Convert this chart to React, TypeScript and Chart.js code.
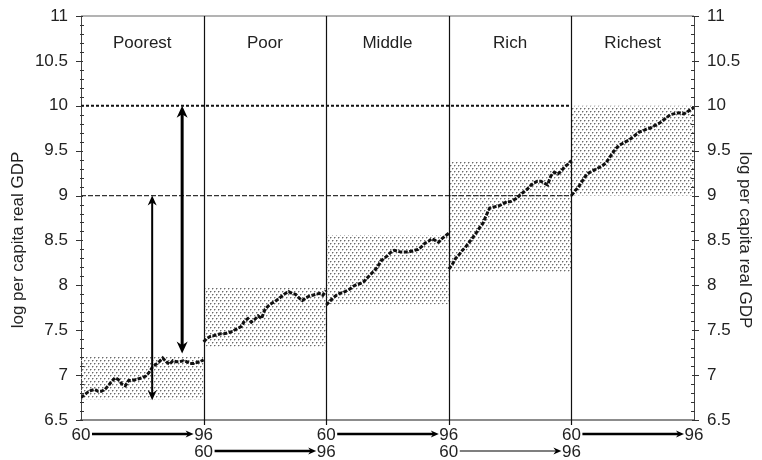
import React, { useEffect, useRef } from "react";
import { Chart, registerables } from "chart.js";
Chart.register(...registerables);

// ---------- data ----------
const panelNames = ["Poorest", "Poor", "Middle", "Rich", "Richest"];
const startYearLabel = "60";
const endYearLabel = "96";
const yearsPerPanel = 36;

const poorest = [6.75, 6.78, 6.81, 6.83, 6.84, 6.82, 6.82, 6.84, 6.88, 6.93, 6.97, 6.95, 6.9, 6.88, 6.94, 6.94, 6.95, 6.96, 6.97, 6.99, 7.03, 7.09, 7.12, 7.15, 7.19, 7.15, 7.12, 7.16, 7.15, 7.15, 7.16, 7.15, 7.13, 7.13, 7.14, 7.15, 7.17];
const poor = [7.37, 7.41, 7.43, 7.44, 7.45, 7.46, 7.46, 7.47, 7.48, 7.5, 7.52, 7.54, 7.6, 7.63, 7.59, 7.62, 7.66, 7.63, 7.73, 7.77, 7.8, 7.82, 7.85, 7.88, 7.91, 7.93, 7.91, 7.9, 7.86, 7.83, 7.86, 7.88, 7.89, 7.9, 7.91, 7.89, 7.94];
const middle = [7.78, 7.82, 7.86, 7.89, 7.91, 7.92, 7.94, 7.96, 7.99, 8.01, 8.02, 8.04, 8.08, 8.12, 8.16, 8.2, 8.27, 8.3, 8.33, 8.37, 8.39, 8.38, 8.37, 8.37, 8.37, 8.38, 8.39, 8.4, 8.43, 8.47, 8.49, 8.52, 8.5, 8.48, 8.52, 8.55, 8.58];
const rich = [8.18, 8.23, 8.3, 8.34, 8.39, 8.43, 8.48, 8.53, 8.58, 8.64, 8.69, 8.78, 8.86, 8.87, 8.88, 8.89, 8.91, 8.93, 8.93, 8.95, 8.97, 9.01, 9.04, 9.07, 9.11, 9.14, 9.16, 9.16, 9.14, 9.12, 9.22, 9.26, 9.24, 9.27, 9.32, 9.35, 9.39];
const richest = [9.0, 9.05, 9.09, 9.15, 9.21, 9.25, 9.27, 9.29, 9.31, 9.33, 9.36, 9.41, 9.47, 9.52, 9.56, 9.58, 9.6, 9.62, 9.65, 9.68, 9.71, 9.72, 9.74, 9.75, 9.77, 9.79, 9.81, 9.84, 9.87, 9.9, 9.91, 9.92, 9.92, 9.91, 9.93, 9.96, 9.98];
const series = [poorest, poor, middle, rich, richest];

const bandLow = [6.73, 7.32, 7.79, 8.15, 9.0];
const bandHigh = [7.21, 7.97, 8.56, 9.38, 10.0];

const refLevels = [10, 9];
const refPanels = 4; // reference lines run over the first four panels

const yTickValues = [6.5, 7, 7.5, 8, 8.5, 9, 9.5, 10, 10.5, 11];
const yTickLabels = ["6.5", "7", "7.5", "8", "8.5", "9", "9.5", "10", "10.5", "11"];
const yTitle = "log per capita real GDP";

// vertical double arrows in the poorest panel (year offset from 60, low end, high end)
const gapArrowYear = [20.9, 29.7];
const gapArrowLow = [6.72, 7.24];
const gapArrowHigh = [9.0, 10.0];

// ---------- styles ----------
const FONT = "'Liberation Sans', Arial, Helvetica, sans-serif";
const TEXT = "#222";
const gapArrowWidths = [2, 3];
const yearArrowWidths = [2.5, 2.5, 2.5, 1.2, 2.5];

function makePattern(): CanvasPattern | string {
  const c = document.createElement("canvas");
  c.width = 4;
  c.height = 6;
  const g = c.getContext("2d");
  if (!g) return "#ddd";
  const dot = (x: number, y: number) => {
    g.fillStyle = "#6a6a6a";
    g.fillRect(x, y, 1, 1);
    g.fillStyle = "#bdbdbd";
    g.fillRect((x + 1) % 4, y, 1, 1);
    g.fillRect(x, (y + 1) % 6, 1, 1);
  };
  dot(0, 0);
  dot(2, 3);
  const p = g.createPattern(c, "repeat");
  return p || "#ddd";
}

function head(ctx: CanvasRenderingContext2D, tx: number, ty: number, ux: number, uy: number, len: number, hw: number) {
  const bx = tx - ux * len;
  const by = ty - uy * len;
  const px = -uy;
  const py = ux;
  const nx = tx - ux * len * 0.7;
  const ny = ty - uy * len * 0.7;
  ctx.beginPath();
  ctx.moveTo(tx, ty);
  ctx.lineTo(bx + px * hw, by + py * hw);
  ctx.lineTo(nx, ny);
  ctx.lineTo(bx - px * hw, by - py * hw);
  ctx.closePath();
  ctx.fill();
}

function arrow(ctx: CanvasRenderingContext2D, x1: number, y1: number, x2: number, y2: number, w: number, len: number, hw: number, both: boolean) {
  const dx = x2 - x1;
  const dy = y2 - y1;
  const d = Math.hypot(dx, dy) || 1;
  const ux = dx / d;
  const uy = dy / d;
  ctx.lineWidth = w;
  ctx.beginPath();
  ctx.moveTo(both ? x1 + ux * len * 0.6 : x1, both ? y1 + uy * len * 0.6 : y1);
  ctx.lineTo(x2 - ux * len * 0.6, y2 - uy * len * 0.6);
  ctx.stroke();
  head(ctx, x2, y2, ux, uy, len, hw);
  if (both) head(ctx, x1, y1, -ux, -uy, len, hw);
}

const overlayPlugin = {
  id: "overlay",
  afterDatasetsDraw(chart: any) {
    const { ctx, chartArea, scales } = chart;
    const xs = scales.x;
    const ys = scales.y;
    const L = chartArea.left;
    const R = chartArea.right;
    const T = chartArea.top;
    const B = chartArea.bottom;
    ctx.save();

    // top frame line
    ctx.strokeStyle = "#9a9a9a";
    ctx.lineWidth = 1.5;
    ctx.beginPath();
    ctx.moveTo(L, T);
    ctx.lineTo(R, T);
    ctx.stroke();

    // panel separators
    ctx.strokeStyle = "#111";
    ctx.lineWidth = 1.2;
    for (let p = 1; p < panelNames.length; p++) {
      const px = Math.round(xs.getPixelForValue(p * yearsPerPanel)) + 0.5;
      ctx.beginPath();
      ctx.moveTo(px, T);
      ctx.lineTo(px, B + 5);
      ctx.stroke();
    }

    // panel names
    ctx.fillStyle = TEXT;
    ctx.font = `17px ${FONT}`;
    ctx.textAlign = "center";
    ctx.textBaseline = "middle";
    panelNames.forEach((name, p) => {
      const cx = (xs.getPixelForValue(p * yearsPerPanel) + xs.getPixelForValue((p + 1) * yearsPerPanel)) / 2;
      ctx.fillText(name, cx, T + 27);
    });

    // gap arrows
    ctx.fillStyle = "#000";
    ctx.strokeStyle = "#000";
    gapArrowYear.forEach((yr, i) => {
      const ax = xs.getPixelForValue(yr);
      arrow(ctx, ax, ys.getPixelForValue(gapArrowLow[i]), ax, ys.getPixelForValue(gapArrowHigh[i]), gapArrowWidths[i], i === 0 ? 10 : 12, i === 0 ? 4.5 : 5.5, true);
    });

    // y axis tick marks (major + minor)
    ctx.strokeStyle = "#333";
    ctx.lineWidth = 1;
    const minorStep = 0.1;
    const ymin = yTickValues[0];
    const ymax = yTickValues[yTickValues.length - 1];
    const nMinor = Math.round((ymax - ymin) / minorStep);
    for (let i = 0; i <= nMinor; i++) {
      const v = ymin + i * minorStep;
      const py = Math.round(ys.getPixelForValue(v)) + 0.5;
      const major = yTickValues.some((t) => Math.abs(t - v) < 1e-6);
      ctx.beginPath();
      if (major) {
        ctx.moveTo(L - 5, py);
        ctx.lineTo(L + 2, py);
        ctx.moveTo(R - 2, py);
        ctx.lineTo(R + 5, py);
      } else {
        ctx.moveTo(L - 1, py);
        ctx.lineTo(L + 3, py);
        ctx.moveTo(R - 3, py);
        ctx.lineTo(R + 1, py);
      }
      ctx.stroke();
    }

    // year labels under each panel with arrows
    ctx.font = `17px ${FONT}`;
    ctx.textAlign = "center";
    ctx.textBaseline = "middle";
    panelNames.forEach((_, p) => {
      const x0 = xs.getPixelForValue(p * yearsPerPanel);
      const x1 = xs.getPixelForValue((p + 1) * yearsPerPanel);
      const rowY = p % 2 === 0 ? B + 15 : B + 32;
      ctx.fillStyle = TEXT;
      ctx.fillText(startYearLabel, x0, rowY);
      ctx.fillText(endYearLabel, x1, rowY);
      ctx.fillStyle = "#000";
      ctx.strokeStyle = "#000";
      arrow(ctx, x0 + 11, rowY - 1, x1 - 10, rowY - 1, yearArrowWidths[p], 8, 3.5, false);
    });

    // axis titles
    ctx.fillStyle = TEXT;
    ctx.font = `17px ${FONT}`;
    ctx.textAlign = "center";
    ctx.textBaseline = "middle";
    const titleY = (T + B) / 2 + 22;
    ctx.save();
    ctx.translate(18, titleY);
    ctx.rotate(-Math.PI / 2);
    ctx.fillText(yTitle, 0, 0);
    ctx.restore();
    ctx.save();
    ctx.translate(745, titleY);
    ctx.rotate(Math.PI / 2);
    ctx.fillText(yTitle, 0, 0);
    ctx.restore();

    ctx.restore();
  },
};

function zeroPad(s: any) {
  s.paddingTop = 0;
  s.paddingBottom = 0;
  s.paddingLeft = 0;
  s.paddingRight = 0;
}

export default function App() {
  const ref = useRef<HTMLCanvasElement | null>(null);

  useEffect(() => {
    document.body.style.margin = "0";
    const canvas = ref.current;
    if (!canvas) return;
    const pattern = makePattern();

    const datasets: any[] = [];
    // series
    series.forEach((vals, p) => {
      datasets.push({
        type: "line",
        data: vals.map((v, i) => ({ x: p * yearsPerPanel + i, y: v })),
        borderColor: "#111",
        borderWidth: 3,
        borderDash: [4, 1.5],
        pointRadius: 0,
        tension: 0,
        fill: false,
        order: 1,
      });
    });
    // reference lines
    refLevels.forEach((lv, i) => {
      datasets.push({
        type: "line",
        data: [
          { x: 0, y: lv },
          { x: refPanels * yearsPerPanel, y: lv },
        ],
        borderColor: i === 0 ? "#111" : "#333",
        borderWidth: i === 0 ? 2 : 1.3,
        borderDash: i === 0 ? [3, 2] : [5, 2],
        pointRadius: 0,
        fill: false,
        order: 2,
      });
    });
    // shaded bands
    bandLow.forEach((lo, p) => {
      datasets.push({
        type: "line",
        data: [
          { x: p * yearsPerPanel, y: bandHigh[p] },
          { x: (p + 1) * yearsPerPanel, y: bandHigh[p] },
        ],
        borderWidth: 0,
        borderColor: "rgba(0,0,0,0)",
        backgroundColor: pattern,
        fill: { value: lo },
        pointRadius: 0,
        order: 3,
      });
    });

    const yTicksCommon = {
      color: TEXT,
      font: { size: 17, family: FONT },
      padding: 13,
      callback: (_v: any, idx: number) => yTickLabels[idx],
    };

    const chart = new Chart(canvas, {
      type: "line",
      data: { datasets },
      plugins: [overlayPlugin],
      options: {
        animation: false,
        responsive: false,
        maintainAspectRatio: false,
        layout: { padding: { top: 16, left: 0, right: 0, bottom: 0 } },
        plugins: { legend: { display: false }, tooltip: { enabled: false }, title: { display: false } },
        scales: {
          x: {
            type: "linear",
            min: 0,
            max: panelNames.length * yearsPerPanel,
            ticks: { display: false },
            grid: { display: true, drawOnChartArea: false, drawTicks: false },
            border: { display: true, color: "#8c8c8c", width: 2 },
            afterFit: (s: any) => {
              s.height = 40;
              zeroPad(s);
            },
          },
          y: {
            type: "linear",
            position: "left",
            min: yTickValues[0],
            max: yTickValues[yTickValues.length - 1],
            afterBuildTicks: (s: any) => {
              s.ticks = yTickValues.map((v) => ({ value: v }));
            },
            ticks: { ...yTicksCommon },
            grid: { display: true, drawOnChartArea: false, drawTicks: false },
            border: { display: true, color: "#444", width: 1 },
            afterFit: (s: any) => {
              s.width = 81;
              zeroPad(s);
            },
          },
          y2: {
            type: "linear",
            position: "right",
            min: yTickValues[0],
            max: yTickValues[yTickValues.length - 1],
            afterBuildTicks: (s: any) => {
              s.ticks = yTickValues.map((v) => ({ value: v }));
            },
            ticks: { ...yTicksCommon },
            grid: { display: true, drawOnChartArea: false, drawTicks: false },
            border: { display: true, color: "#444", width: 1 },
            afterFit: (s: any) => {
              s.width = 68;
              zeroPad(s);
            },
          },
        },
      },
    } as any);

    return () => chart.destroy();
  }, []);

  return (
    <div style={{ width: 762, height: 460, background: "#fff" }}>
      <canvas ref={ref} width={762} height={460} style={{ display: "block", width: 762, height: 460 }} />
    </div>
  );
}
